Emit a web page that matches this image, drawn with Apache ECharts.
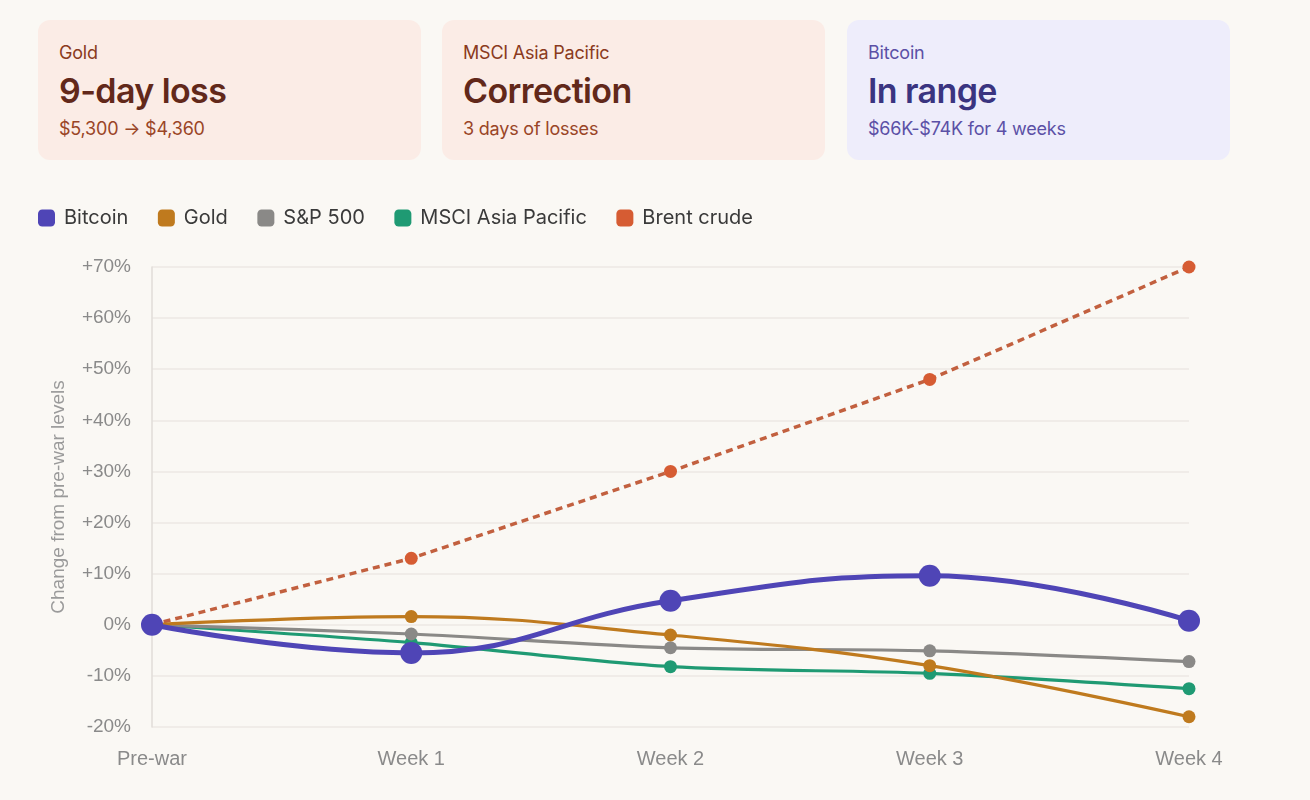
<!DOCTYPE html>
<html>
<head>
<meta charset="utf-8">
<script src="https://cdn.jsdelivr.net/npm/echarts@6/dist/echarts.min.js"></script>
<style>
  html, body { margin:0; padding:0; background:#faf8f4; width:1310px; height:800px; overflow:hidden; }
  .card { position:absolute; top:20px; height:140px; width:383px; border-radius:12px; box-sizing:border-box; padding-left:21px; font-family:Inter, "Noto Sans", sans-serif; }
  .card .lab { position:absolute; font-size:18px; line-height:22px; letter-spacing:-0.2px; }
  .card .ttl { position:absolute; font-size:34px; line-height:40px; font-weight:600; letter-spacing:-0.6px; }
  .card .sub { position:absolute; font-size:18px; line-height:22px; letter-spacing:-0.2px; }
  .warm { background:#fbece6; }
  .warm .lab { color:#8a3a20; } .warm .ttl { color:#62281a; } .warm .sub { color:#9a4526; }
  .cool { background:#eeedfb; }
  .cool .lab { color:#5b50a6; } .cool .ttl { color:#3a3480; } .cool .sub { color:#5b50a6; }
  #chart { position:absolute; left:0; top:180px; width:1310px; height:620px; }
</style>
</head>
<body>
<div id="cards"></div>
<div id="chart"></div>
<script>
const cards = [
  { label: 'Gold', title: '9-day loss', sub: '$5,300 \u2192 $4,360', cls: 'warm' },
  { label: 'MSCI Asia Pacific', title: 'Correction', sub: '3 days of losses', cls: 'warm' },
  { label: 'Bitcoin', title: 'In range', sub: '$66K-$74K for 4 weeks', cls: 'cool' }
];
const categories = ['Pre-war', 'Week 1', 'Week 2', 'Week 3', 'Week 4'];
const bitcoin = [0, -5.5, 4.7, 9.6, 0.8];
const gold = [0, 1.6, -2.0, -8.0, -18.0];
const sp500 = [0, -1.8, -4.5, -5.1, -7.2];
const msci = [0, -3.5, -8.2, -9.5, -12.5];
const brent = [0, 13, 30, 48, 70];

const cardLeft = [38, 442, 847];
const wrap = document.getElementById('cards');
cards.forEach((c, i) => {
  const d = document.createElement('div');
  d.className = 'card ' + c.cls;
  d.style.left = cardLeft[i] + 'px';
  d.innerHTML = '<div class="lab">' + c.label + '</div><div class="ttl">' + c.title + '</div><div class="sub">' + c.sub + '</div>';
  d.querySelector('.lab').style.top = '22px';
  d.querySelector('.ttl').style.top = '51px';
  d.querySelector('.sub').style.top = '98px';
  wrap.appendChild(d);
});

const chart = echarts.init(document.getElementById('chart'), null, { renderer: 'canvas' });
const font = '"Liberation Sans", Arial, sans-serif';
const C = { btc: '#4f45b6', gold: '#bf7a1e', sp: '#8a8987', msci: '#1f9a73', brent: '#d65c33', brentLine: '#c2603f' };

chart.setOption({
  backgroundColor: 'transparent',
  animation: false,
  legend: {
    left: 33, top: 23,
    itemWidth: 17, itemHeight: 17, itemGap: 29.5,
    icon: 'roundRect',
    textStyle: { fontFamily: 'Inter, "Noto Sans", sans-serif', fontSize: 20, color: '#3a3a3a', padding: [0, 0, 0, 4] },
    data: [
      { name: 'Bitcoin', itemStyle: { color: C.btc } },
      { name: 'Gold', itemStyle: { color: C.gold } },
      { name: 'S&P 500', itemStyle: { color: C.sp } },
      { name: 'MSCI Asia Pacific', itemStyle: { color: C.msci } },
      { name: 'Brent crude', itemStyle: { color: C.brent } }
    ]
  },
  grid: { left: 152, right: 121, top: 87, bottom: 73, containLabel: false },
  xAxis: {
    type: 'category', data: categories, boundaryGap: false,
    axisLine: { show: false }, axisTick: { show: false },
    axisLabel: { color: '#8a8a8a', fontSize: 20, fontFamily: font, margin: 22 }
  },
  yAxis: {
    type: 'value', min: -20, max: 70, interval: 10,
    name: 'Change from pre-war levels', nameLocation: 'middle', nameGap: 84,
    nameTextStyle: { color: '#9a9a9a', fontSize: 19, fontFamily: font },
    axisLine: { show: true, lineStyle: { color: '#e0ddd8', width: 1.5 } },
    axisTick: { show: false },
    axisLabel: { color: '#8a8a8a', fontSize: 19, fontFamily: font, margin: 21,
      formatter: v => (v > 0 ? '+' + v : '' + v) + '%' },
    splitLine: { lineStyle: { color: '#ece9e4', width: 1.5 } }
  },
  series: [
    { name: 'Bitcoin', type: 'line', data: bitcoin, smooth: 0.45, z: 10,
      symbol: 'circle', symbolSize: 22,
      lineStyle: { color: C.btc, width: 5 }, itemStyle: { color: C.btc } },
    { name: 'Gold', type: 'line', data: gold, smooth: 0.4, z: 5,
      symbol: 'circle', symbolSize: 13,
      lineStyle: { color: C.gold, width: 3.2 }, itemStyle: { color: C.gold } },
    { name: 'S&P 500', type: 'line', data: sp500, smooth: 0.3, z: 4,
      symbol: 'circle', symbolSize: 13,
      lineStyle: { color: C.sp, width: 3.2 }, itemStyle: { color: C.sp } },
    { name: 'MSCI Asia Pacific', type: 'line', data: msci, smooth: 0.3, z: 3,
      symbol: 'circle', symbolSize: 13,
      lineStyle: { color: C.msci, width: 3.2 }, itemStyle: { color: C.msci } },
    { name: 'Brent crude', type: 'line', data: brent, smooth: false, z: 2,
      symbol: 'circle', symbolSize: 13,
      lineStyle: { color: C.brentLine, width: 3.5, type: [7, 5] }, itemStyle: { color: C.brent } }
  ]
});
</script>
</body>
</html>
